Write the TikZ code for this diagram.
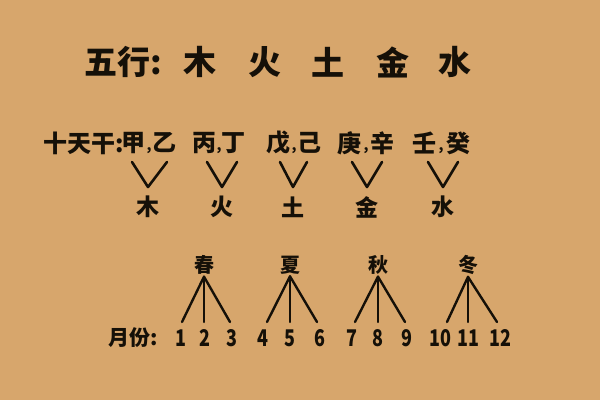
\documentclass[tikz,border=0pt]{standalone}
\usepackage{fontspec}
\newfontfamily\cjk{Noto Sans CJK SC}
\newfontfamily\cjknarrow[FakeStretch=0.78]{Noto Sans CJK SC}
\definecolor{bgtan}{HTML}{D7A66C}
\definecolor{ink}{HTML}{151008}
\tikzset{
  title/.style={inner sep=0pt, text=ink, font=\cjk\bfseries\fontsize{33}{33}\selectfont},
  stem/.style={inner sep=0pt, text=ink, font=\cjk\bfseries\fontsize{24}{24}\selectfont},
  comma/.style={inner sep=0pt, text=ink, font=\cjk\bfseries\fontsize{14}{14}\selectfont},
  elem/.style={inner sep=0pt, text=ink, font=\cjk\bfseries\fontsize{23}{23}\selectfont},
  season/.style={inner sep=0pt, text=ink, font=\cjk\bfseries\fontsize{20}{20}\selectfont},
  month/.style={inner sep=0pt, text=ink, font=\cjk\bfseries\fontsize{21}{21}\selectfont},
  num/.style={inner sep=0pt, text=ink, font=\cjknarrow\bfseries\fontsize{23}{23}\selectfont},
  vline/.style={draw=ink, line width=2.6pt, line cap=round, line join=round},
  fork/.style={draw=ink, line width=2.4pt, line cap=round}
}
\begin{document}
\begin{tikzpicture}[x=1pt,y=-1pt]
\fill[bgtan] (0,0) rectangle (600,400);
\useasboundingbox (0,0) rectangle (600,400);
% title row
\node[title, anchor=west] (t0) at (84,62) {五行:};
\node[title] (t1) at (200,62) {木};
\node[title] (t2) at (265,62) {火};
\node[title] (t3) at (328,62) {土};
\node[title] (t4) at (393,62) {金};
\node[title] (t5) at (455,62) {水};
% stems row
\node[stem, anchor=west] (s0) at (43,143) {十天干:};
\node[stem] (a1) at (133,143) {甲};
\node[comma] (c1) at (149,151) {,};
\node[stem] (b1) at (164,143) {乙};
\node[stem] (a2) at (204,143) {丙};
\node[comma] (c2) at (219,151) {,};
\node[stem] (b2) at (233,143) {丁};
\node[stem] (a3) at (278,143) {戊};
\node[comma] (c3) at (294,151) {,};
\node[stem] (b3) at (309,143) {己};
\node[stem] (a4) at (349,143) {庚};
\node[comma] (c4) at (366,151) {,};
\node[stem] (b4) at (382,143) {辛};
\node[stem] (a5) at (424,143) {壬};
\node[comma] (c5) at (441,151) {,};
\node[stem] (b5) at (458,143) {癸};
% elements
\node[elem] (e1) at (148,207) {木};
\node[elem] (e2) at (222,207) {火};
\node[elem] (e3) at (293,207) {土};
\node[elem] (e4) at (367,207) {金};
\node[elem] (e5) at (443,207) {水};
% V connectors
\coordinate (v1) at (148,187);
\coordinate (v2) at (222,187);
\coordinate (v3) at (293,187);
\coordinate (v4) at (367,187);
\coordinate (v5) at (443,187);
\draw[vline] (132,162) -- (v1) -- (167,162);
\draw[vline] (207,162) -- (v2) -- (237,162);
\draw[vline] (280,162) -- (v3) -- (307,162);
\draw[vline] (352,162) -- (v4) -- (382,162);
\draw[vline] (428,162) -- (v5) -- (458,162);
% seasons
\node[season] (p1) at (204,265) {春};
\node[season] (p2) at (290,265) {夏};
\node[season] (p3) at (378,265) {秋};
\node[season] (p4) at (468,265) {冬};
% months
\node[month, anchor=east] (m0) at (158,338) {月份:};
\node[num] (n1) at (181,338) {1};
\node[num] (n2) at (205,338) {2};
\node[num] (n3) at (232,338) {3};
\node[num] (n4) at (263,338) {4};
\node[num] (n5) at (290,338) {5};
\node[num] (n6) at (320,338) {6};
\node[num] (n7) at (352,338) {7};
\node[num] (n8) at (378,338) {8};
\node[num] (n9) at (407,338) {9};
\node[num] (n10) at (440,338) {10};
\node[num] (n11) at (468,338) {11};
\node[num] (n12) at (500,338) {12};
% forks
\foreach \p/\lx/\cx/\rx in {p1/182/204/230, p2/267/290/317, p3/355/378/405, p4/447/468/497}{
  \draw[fork] (\p.south) ++(0,2) coordinate (ap) -- (\lx,322);
  \draw[fork] (ap) -- (\cx,322);
  \draw[fork] (ap) -- (\rx,322);
}
\end{tikzpicture}
\end{document}
